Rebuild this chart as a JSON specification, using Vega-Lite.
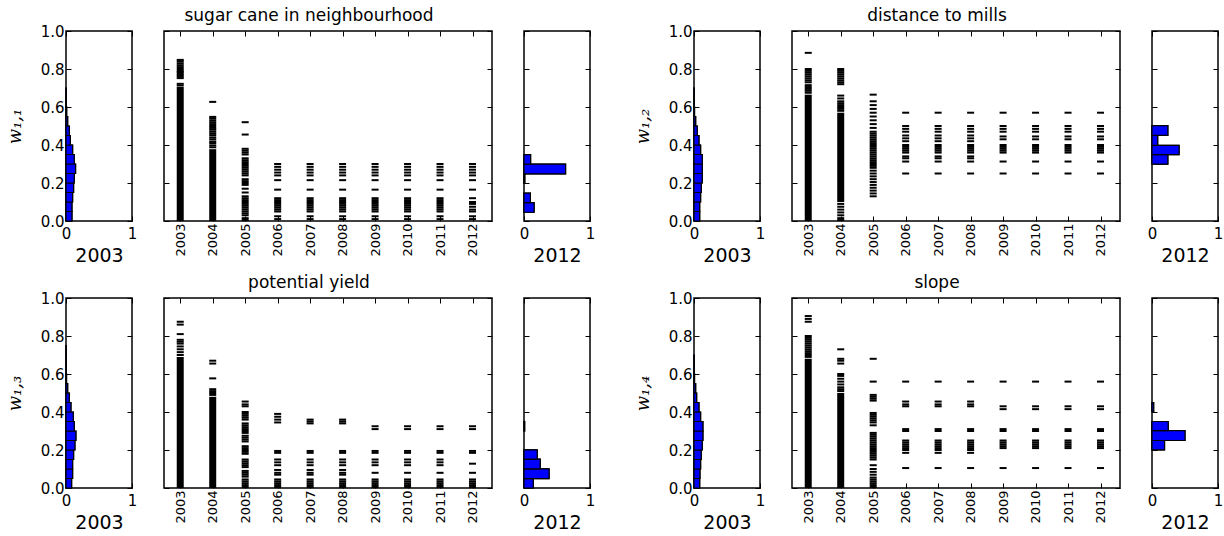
{
  "$schema": "https://vega.github.io/schema/vega-lite/v6.json",
  "background": "white",
  "padding": {"left": 5, "top": 5, "right": 0, "bottom": 0},
  "autosize": {"type": "pad"},
  "config": {
    "font": "DejaVu Sans",
    "view": {"stroke": "black", "strokeWidth": 1.5},
    "axis": {
      "grid": false, "domain": false, "ticks": true, "tickColor": "black", "tickWidth": 1, "tickSize": -5,
      "labelColor": "black", "labelFont": "DejaVu Sans", "labelFontSize": 15,
      "labelFlush": false, "labelOverlap": false,
      "titleColor": "black", "titleFont": "DejaVu Sans", "titleFontWeight": "normal", "titleFontSize": 19, "titlePadding": 5
    },
    "axisX": {"labelPadding": 10},
    "axisY": {"labelPadding": 7},
    "tick": {"opacity": 1},
    "title": {"font": "DejaVu Sans", "fontSize": 17, "fontWeight": "normal", "color": "black", "offset": 6, "anchor": "middle", "frame": "group", "dx": -19}
  },
  "datasets": {
    "hist": [
      {"panel": "sugar", "year": 2003, "lo": 0.00, "hi": 0.05, "share": 0.09},
      {"panel": "sugar", "year": 2003, "lo": 0.05, "hi": 0.10, "share": 0.09},
      {"panel": "sugar", "year": 2003, "lo": 0.10, "hi": 0.15, "share": 0.10},
      {"panel": "sugar", "year": 2003, "lo": 0.15, "hi": 0.20, "share": 0.115},
      {"panel": "sugar", "year": 2003, "lo": 0.20, "hi": 0.25, "share": 0.125},
      {"panel": "sugar", "year": 2003, "lo": 0.25, "hi": 0.30, "share": 0.145},
      {"panel": "sugar", "year": 2003, "lo": 0.30, "hi": 0.35, "share": 0.125},
      {"panel": "sugar", "year": 2003, "lo": 0.35, "hi": 0.40, "share": 0.10},
      {"panel": "sugar", "year": 2003, "lo": 0.40, "hi": 0.45, "share": 0.065},
      {"panel": "sugar", "year": 2003, "lo": 0.45, "hi": 0.50, "share": 0.05},
      {"panel": "sugar", "year": 2003, "lo": 0.50, "hi": 0.55, "share": 0.025},
      {"panel": "sugar", "year": 2003, "lo": 0.55, "hi": 0.60, "share": 0.01},
      {"panel": "sugar", "year": 2003, "lo": 0.60, "hi": 0.65, "share": 0.005},
      {"panel": "sugar", "year": 2003, "lo": 0.65, "hi": 0.70, "share": 0.003},
      {"panel": "sugar", "year": 2012, "lo": 0.046, "hi": 0.097, "share": 0.153},
      {"panel": "sugar", "year": 2012, "lo": 0.097, "hi": 0.147, "share": 0.097},
      {"panel": "sugar", "year": 2012, "lo": 0.198, "hi": 0.248, "share": 0.012},
      {"panel": "sugar", "year": 2012, "lo": 0.248, "hi": 0.299, "share": 0.63},
      {"panel": "sugar", "year": 2012, "lo": 0.299, "hi": 0.349, "share": 0.10},
      {"panel": "mills", "year": 2003, "lo": 0.00, "hi": 0.05, "share": 0.086},
      {"panel": "mills", "year": 2003, "lo": 0.05, "hi": 0.10, "share": 0.086},
      {"panel": "mills", "year": 2003, "lo": 0.10, "hi": 0.15, "share": 0.10},
      {"panel": "mills", "year": 2003, "lo": 0.15, "hi": 0.20, "share": 0.11},
      {"panel": "mills", "year": 2003, "lo": 0.20, "hi": 0.25, "share": 0.125},
      {"panel": "mills", "year": 2003, "lo": 0.25, "hi": 0.30, "share": 0.125},
      {"panel": "mills", "year": 2003, "lo": 0.30, "hi": 0.35, "share": 0.125},
      {"panel": "mills", "year": 2003, "lo": 0.35, "hi": 0.40, "share": 0.10},
      {"panel": "mills", "year": 2003, "lo": 0.40, "hi": 0.45, "share": 0.075},
      {"panel": "mills", "year": 2003, "lo": 0.45, "hi": 0.50, "share": 0.05},
      {"panel": "mills", "year": 2003, "lo": 0.50, "hi": 0.55, "share": 0.025},
      {"panel": "mills", "year": 2003, "lo": 0.55, "hi": 0.60, "share": 0.008},
      {"panel": "mills", "year": 2003, "lo": 0.60, "hi": 0.70, "share": 0.003},
      {"panel": "mills", "year": 2012, "lo": 0.299, "hi": 0.349, "share": 0.24},
      {"panel": "mills", "year": 2012, "lo": 0.349, "hi": 0.398, "share": 0.41},
      {"panel": "mills", "year": 2012, "lo": 0.398, "hi": 0.451, "share": 0.086},
      {"panel": "mills", "year": 2012, "lo": 0.451, "hi": 0.502, "share": 0.24},
      {"panel": "yield", "year": 2003, "lo": 0.00, "hi": 0.05, "share": 0.085},
      {"panel": "yield", "year": 2003, "lo": 0.05, "hi": 0.10, "share": 0.10},
      {"panel": "yield", "year": 2003, "lo": 0.10, "hi": 0.15, "share": 0.10},
      {"panel": "yield", "year": 2003, "lo": 0.15, "hi": 0.20, "share": 0.115},
      {"panel": "yield", "year": 2003, "lo": 0.20, "hi": 0.25, "share": 0.135},
      {"panel": "yield", "year": 2003, "lo": 0.25, "hi": 0.30, "share": 0.15},
      {"panel": "yield", "year": 2003, "lo": 0.30, "hi": 0.35, "share": 0.125},
      {"panel": "yield", "year": 2003, "lo": 0.35, "hi": 0.40, "share": 0.11},
      {"panel": "yield", "year": 2003, "lo": 0.40, "hi": 0.45, "share": 0.075},
      {"panel": "yield", "year": 2003, "lo": 0.45, "hi": 0.50, "share": 0.05},
      {"panel": "yield", "year": 2003, "lo": 0.50, "hi": 0.55, "share": 0.025},
      {"panel": "yield", "year": 2003, "lo": 0.55, "hi": 0.60, "share": 0.008},
      {"panel": "yield", "year": 2003, "lo": 0.60, "hi": 0.75, "share": 0.003},
      {"panel": "yield", "year": 2012, "lo": 0.000, "hi": 0.049, "share": 0.14},
      {"panel": "yield", "year": 2012, "lo": 0.049, "hi": 0.101, "share": 0.38},
      {"panel": "yield", "year": 2012, "lo": 0.101, "hi": 0.152, "share": 0.245},
      {"panel": "yield", "year": 2012, "lo": 0.152, "hi": 0.201, "share": 0.20},
      {"panel": "yield", "year": 2012, "lo": 0.300, "hi": 0.350, "share": 0.01},
      {"panel": "slope", "year": 2003, "lo": 0.00, "hi": 0.05, "share": 0.086},
      {"panel": "slope", "year": 2003, "lo": 0.05, "hi": 0.10, "share": 0.09},
      {"panel": "slope", "year": 2003, "lo": 0.10, "hi": 0.15, "share": 0.10},
      {"panel": "slope", "year": 2003, "lo": 0.15, "hi": 0.20, "share": 0.11},
      {"panel": "slope", "year": 2003, "lo": 0.20, "hi": 0.25, "share": 0.125},
      {"panel": "slope", "year": 2003, "lo": 0.25, "hi": 0.30, "share": 0.135},
      {"panel": "slope", "year": 2003, "lo": 0.30, "hi": 0.35, "share": 0.135},
      {"panel": "slope", "year": 2003, "lo": 0.35, "hi": 0.40, "share": 0.10},
      {"panel": "slope", "year": 2003, "lo": 0.40, "hi": 0.45, "share": 0.075},
      {"panel": "slope", "year": 2003, "lo": 0.45, "hi": 0.50, "share": 0.04},
      {"panel": "slope", "year": 2003, "lo": 0.50, "hi": 0.55, "share": 0.025},
      {"panel": "slope", "year": 2003, "lo": 0.55, "hi": 0.60, "share": 0.008},
      {"panel": "slope", "year": 2003, "lo": 0.60, "hi": 0.70, "share": 0.003},
      {"panel": "slope", "year": 2012, "lo": 0.201, "hi": 0.250, "share": 0.19},
      {"panel": "slope", "year": 2012, "lo": 0.250, "hi": 0.302, "share": 0.50},
      {"panel": "slope", "year": 2012, "lo": 0.302, "hi": 0.350, "share": 0.245},
      {"panel": "slope", "year": 2012, "lo": 0.402, "hi": 0.449, "share": 0.025}
    ],
    "bands": [
      {"panel": "sugar", "year": 2003, "lo": 0.0, "hi": 0.705},
      {"panel": "sugar", "year": 2004, "lo": 0.0, "hi": 0.378},
      {"panel": "mills", "year": 2003, "lo": 0.0, "hi": 0.665},
      {"panel": "mills", "year": 2004, "lo": 0.10, "hi": 0.57},
      {"panel": "yield", "year": 2003, "lo": 0.0, "hi": 0.69},
      {"panel": "yield", "year": 2004, "lo": 0.0, "hi": 0.48},
      {"panel": "slope", "year": 2003, "lo": 0.0, "hi": 0.68},
      {"panel": "slope", "year": 2004, "lo": 0.0, "hi": 0.50}
    ],
    "ticks": [
      {"panel": "sugar", "year": 2003, "w": 0.713}, {"panel": "sugar", "year": 2003, "w": 0.722}, {"panel": "sugar", "year": 2003, "w": 0.752}, {"panel": "sugar", "year": 2003, "w": 0.76}, {"panel": "sugar", "year": 2003, "w": 0.768}, {"panel": "sugar", "year": 2003, "w": 0.776}, {"panel": "sugar", "year": 2003, "w": 0.784}, {"panel": "sugar", "year": 2003, "w": 0.79}, {"panel": "sugar", "year": 2003, "w": 0.80}, {"panel": "sugar", "year": 2003, "w": 0.81}, {"panel": "sugar", "year": 2003, "w": 0.82}, {"panel": "sugar", "year": 2003, "w": 0.83}, {"panel": "sugar", "year": 2003, "w": 0.84}, {"panel": "sugar", "year": 2003, "w": 0.848},
      {"panel": "sugar", "year": 2004, "w": 0.388}, {"panel": "sugar", "year": 2004, "w": 0.398}, {"panel": "sugar", "year": 2004, "w": 0.41}, {"panel": "sugar", "year": 2004, "w": 0.418}, {"panel": "sugar", "year": 2004, "w": 0.43}, {"panel": "sugar", "year": 2004, "w": 0.44}, {"panel": "sugar", "year": 2004, "w": 0.452}, {"panel": "sugar", "year": 2004, "w": 0.462}, {"panel": "sugar", "year": 2004, "w": 0.472}, {"panel": "sugar", "year": 2004, "w": 0.482}, {"panel": "sugar", "year": 2004, "w": 0.49}, {"panel": "sugar", "year": 2004, "w": 0.50}, {"panel": "sugar", "year": 2004, "w": 0.51}, {"panel": "sugar", "year": 2004, "w": 0.52}, {"panel": "sugar", "year": 2004, "w": 0.53}, {"panel": "sugar", "year": 2004, "w": 0.54}, {"panel": "sugar", "year": 2004, "w": 0.548}, {"panel": "sugar", "year": 2004, "w": 0.627},
      {"panel": "sugar", "year": 2005, "w": 0.005}, {"panel": "sugar", "year": 2005, "w": 0.015}, {"panel": "sugar", "year": 2005, "w": 0.03}, {"panel": "sugar", "year": 2005, "w": 0.04}, {"panel": "sugar", "year": 2005, "w": 0.05}, {"panel": "sugar", "year": 2005, "w": 0.06}, {"panel": "sugar", "year": 2005, "w": 0.07}, {"panel": "sugar", "year": 2005, "w": 0.08}, {"panel": "sugar", "year": 2005, "w": 0.09}, {"panel": "sugar", "year": 2005, "w": 0.10}, {"panel": "sugar", "year": 2005, "w": 0.11}, {"panel": "sugar", "year": 2005, "w": 0.12}, {"panel": "sugar", "year": 2005, "w": 0.13}, {"panel": "sugar", "year": 2005, "w": 0.15}, {"panel": "sugar", "year": 2005, "w": 0.17}, {"panel": "sugar", "year": 2005, "w": 0.19}, {"panel": "sugar", "year": 2005, "w": 0.20}, {"panel": "sugar", "year": 2005, "w": 0.21}, {"panel": "sugar", "year": 2005, "w": 0.22}, {"panel": "sugar", "year": 2005, "w": 0.24}, {"panel": "sugar", "year": 2005, "w": 0.25}, {"panel": "sugar", "year": 2005, "w": 0.26}, {"panel": "sugar", "year": 2005, "w": 0.27}, {"panel": "sugar", "year": 2005, "w": 0.28}, {"panel": "sugar", "year": 2005, "w": 0.29}, {"panel": "sugar", "year": 2005, "w": 0.30}, {"panel": "sugar", "year": 2005, "w": 0.31}, {"panel": "sugar", "year": 2005, "w": 0.32}, {"panel": "sugar", "year": 2005, "w": 0.33}, {"panel": "sugar", "year": 2005, "w": 0.35}, {"panel": "sugar", "year": 2005, "w": 0.36}, {"panel": "sugar", "year": 2005, "w": 0.37}, {"panel": "sugar", "year": 2005, "w": 0.38}, {"panel": "sugar", "year": 2005, "w": 0.455}, {"panel": "sugar", "year": 2005, "w": 0.52},
      {"panel": "sugar", "year": 2006, "w": 0.01}, {"panel": "sugar", "year": 2006, "w": 0.025}, {"panel": "sugar", "year": 2006, "w": 0.05}, {"panel": "sugar", "year": 2006, "w": 0.06}, {"panel": "sugar", "year": 2006, "w": 0.07}, {"panel": "sugar", "year": 2006, "w": 0.08}, {"panel": "sugar", "year": 2006, "w": 0.09}, {"panel": "sugar", "year": 2006, "w": 0.10}, {"panel": "sugar", "year": 2006, "w": 0.11}, {"panel": "sugar", "year": 2006, "w": 0.12}, {"panel": "sugar", "year": 2006, "w": 0.165}, {"panel": "sugar", "year": 2006, "w": 0.215}, {"panel": "sugar", "year": 2006, "w": 0.24}, {"panel": "sugar", "year": 2006, "w": 0.255}, {"panel": "sugar", "year": 2006, "w": 0.27}, {"panel": "sugar", "year": 2006, "w": 0.285}, {"panel": "sugar", "year": 2006, "w": 0.30},
      {"panel": "sugar", "year": 2007, "w": 0.01}, {"panel": "sugar", "year": 2007, "w": 0.025}, {"panel": "sugar", "year": 2007, "w": 0.05}, {"panel": "sugar", "year": 2007, "w": 0.06}, {"panel": "sugar", "year": 2007, "w": 0.07}, {"panel": "sugar", "year": 2007, "w": 0.08}, {"panel": "sugar", "year": 2007, "w": 0.09}, {"panel": "sugar", "year": 2007, "w": 0.10}, {"panel": "sugar", "year": 2007, "w": 0.11}, {"panel": "sugar", "year": 2007, "w": 0.12}, {"panel": "sugar", "year": 2007, "w": 0.165}, {"panel": "sugar", "year": 2007, "w": 0.215}, {"panel": "sugar", "year": 2007, "w": 0.24}, {"panel": "sugar", "year": 2007, "w": 0.255}, {"panel": "sugar", "year": 2007, "w": 0.27}, {"panel": "sugar", "year": 2007, "w": 0.285}, {"panel": "sugar", "year": 2007, "w": 0.30},
      {"panel": "sugar", "year": 2008, "w": 0.01}, {"panel": "sugar", "year": 2008, "w": 0.025}, {"panel": "sugar", "year": 2008, "w": 0.05}, {"panel": "sugar", "year": 2008, "w": 0.06}, {"panel": "sugar", "year": 2008, "w": 0.07}, {"panel": "sugar", "year": 2008, "w": 0.08}, {"panel": "sugar", "year": 2008, "w": 0.09}, {"panel": "sugar", "year": 2008, "w": 0.10}, {"panel": "sugar", "year": 2008, "w": 0.11}, {"panel": "sugar", "year": 2008, "w": 0.12}, {"panel": "sugar", "year": 2008, "w": 0.165}, {"panel": "sugar", "year": 2008, "w": 0.215}, {"panel": "sugar", "year": 2008, "w": 0.24}, {"panel": "sugar", "year": 2008, "w": 0.255}, {"panel": "sugar", "year": 2008, "w": 0.27}, {"panel": "sugar", "year": 2008, "w": 0.285}, {"panel": "sugar", "year": 2008, "w": 0.30},
      {"panel": "sugar", "year": 2009, "w": 0.01}, {"panel": "sugar", "year": 2009, "w": 0.025}, {"panel": "sugar", "year": 2009, "w": 0.05}, {"panel": "sugar", "year": 2009, "w": 0.06}, {"panel": "sugar", "year": 2009, "w": 0.07}, {"panel": "sugar", "year": 2009, "w": 0.08}, {"panel": "sugar", "year": 2009, "w": 0.09}, {"panel": "sugar", "year": 2009, "w": 0.10}, {"panel": "sugar", "year": 2009, "w": 0.11}, {"panel": "sugar", "year": 2009, "w": 0.12}, {"panel": "sugar", "year": 2009, "w": 0.165}, {"panel": "sugar", "year": 2009, "w": 0.215}, {"panel": "sugar", "year": 2009, "w": 0.24}, {"panel": "sugar", "year": 2009, "w": 0.255}, {"panel": "sugar", "year": 2009, "w": 0.27}, {"panel": "sugar", "year": 2009, "w": 0.285}, {"panel": "sugar", "year": 2009, "w": 0.30},
      {"panel": "sugar", "year": 2010, "w": 0.01}, {"panel": "sugar", "year": 2010, "w": 0.025}, {"panel": "sugar", "year": 2010, "w": 0.05}, {"panel": "sugar", "year": 2010, "w": 0.06}, {"panel": "sugar", "year": 2010, "w": 0.07}, {"panel": "sugar", "year": 2010, "w": 0.08}, {"panel": "sugar", "year": 2010, "w": 0.09}, {"panel": "sugar", "year": 2010, "w": 0.10}, {"panel": "sugar", "year": 2010, "w": 0.11}, {"panel": "sugar", "year": 2010, "w": 0.12}, {"panel": "sugar", "year": 2010, "w": 0.165}, {"panel": "sugar", "year": 2010, "w": 0.215}, {"panel": "sugar", "year": 2010, "w": 0.24}, {"panel": "sugar", "year": 2010, "w": 0.255}, {"panel": "sugar", "year": 2010, "w": 0.27}, {"panel": "sugar", "year": 2010, "w": 0.285}, {"panel": "sugar", "year": 2010, "w": 0.30},
      {"panel": "sugar", "year": 2011, "w": 0.01}, {"panel": "sugar", "year": 2011, "w": 0.025}, {"panel": "sugar", "year": 2011, "w": 0.05}, {"panel": "sugar", "year": 2011, "w": 0.06}, {"panel": "sugar", "year": 2011, "w": 0.07}, {"panel": "sugar", "year": 2011, "w": 0.08}, {"panel": "sugar", "year": 2011, "w": 0.09}, {"panel": "sugar", "year": 2011, "w": 0.10}, {"panel": "sugar", "year": 2011, "w": 0.11}, {"panel": "sugar", "year": 2011, "w": 0.12}, {"panel": "sugar", "year": 2011, "w": 0.165}, {"panel": "sugar", "year": 2011, "w": 0.215}, {"panel": "sugar", "year": 2011, "w": 0.24}, {"panel": "sugar", "year": 2011, "w": 0.255}, {"panel": "sugar", "year": 2011, "w": 0.27}, {"panel": "sugar", "year": 2011, "w": 0.285}, {"panel": "sugar", "year": 2011, "w": 0.30},
      {"panel": "sugar", "year": 2012, "w": 0.01}, {"panel": "sugar", "year": 2012, "w": 0.025}, {"panel": "sugar", "year": 2012, "w": 0.05}, {"panel": "sugar", "year": 2012, "w": 0.06}, {"panel": "sugar", "year": 2012, "w": 0.075}, {"panel": "sugar", "year": 2012, "w": 0.09}, {"panel": "sugar", "year": 2012, "w": 0.10}, {"panel": "sugar", "year": 2012, "w": 0.12}, {"panel": "sugar", "year": 2012, "w": 0.165}, {"panel": "sugar", "year": 2012, "w": 0.215}, {"panel": "sugar", "year": 2012, "w": 0.24}, {"panel": "sugar", "year": 2012, "w": 0.255}, {"panel": "sugar", "year": 2012, "w": 0.27}, {"panel": "sugar", "year": 2012, "w": 0.285}, {"panel": "sugar", "year": 2012, "w": 0.30},

      {"panel": "mills", "year": 2003, "w": 0.675}, {"panel": "mills", "year": 2003, "w": 0.685}, {"panel": "mills", "year": 2003, "w": 0.695}, {"panel": "mills", "year": 2003, "w": 0.705}, {"panel": "mills", "year": 2003, "w": 0.715}, {"panel": "mills", "year": 2003, "w": 0.73}, {"panel": "mills", "year": 2003, "w": 0.74}, {"panel": "mills", "year": 2003, "w": 0.75}, {"panel": "mills", "year": 2003, "w": 0.76}, {"panel": "mills", "year": 2003, "w": 0.77}, {"panel": "mills", "year": 2003, "w": 0.78}, {"panel": "mills", "year": 2003, "w": 0.79}, {"panel": "mills", "year": 2003, "w": 0.80}, {"panel": "mills", "year": 2003, "w": 0.885},
      {"panel": "mills", "year": 2004, "w": 0.005}, {"panel": "mills", "year": 2004, "w": 0.015}, {"panel": "mills", "year": 2004, "w": 0.03}, {"panel": "mills", "year": 2004, "w": 0.045}, {"panel": "mills", "year": 2004, "w": 0.06}, {"panel": "mills", "year": 2004, "w": 0.075}, {"panel": "mills", "year": 2004, "w": 0.09}, {"panel": "mills", "year": 2004, "w": 0.58}, {"panel": "mills", "year": 2004, "w": 0.59}, {"panel": "mills", "year": 2004, "w": 0.60}, {"panel": "mills", "year": 2004, "w": 0.61}, {"panel": "mills", "year": 2004, "w": 0.62}, {"panel": "mills", "year": 2004, "w": 0.63}, {"panel": "mills", "year": 2004, "w": 0.645}, {"panel": "mills", "year": 2004, "w": 0.66}, {"panel": "mills", "year": 2004, "w": 0.72}, {"panel": "mills", "year": 2004, "w": 0.73}, {"panel": "mills", "year": 2004, "w": 0.74}, {"panel": "mills", "year": 2004, "w": 0.75}, {"panel": "mills", "year": 2004, "w": 0.76}, {"panel": "mills", "year": 2004, "w": 0.77}, {"panel": "mills", "year": 2004, "w": 0.78}, {"panel": "mills", "year": 2004, "w": 0.79}, {"panel": "mills", "year": 2004, "w": 0.80},
      {"panel": "mills", "year": 2005, "w": 0.13}, {"panel": "mills", "year": 2005, "w": 0.145}, {"panel": "mills", "year": 2005, "w": 0.16}, {"panel": "mills", "year": 2005, "w": 0.175}, {"panel": "mills", "year": 2005, "w": 0.19}, {"panel": "mills", "year": 2005, "w": 0.205}, {"panel": "mills", "year": 2005, "w": 0.22}, {"panel": "mills", "year": 2005, "w": 0.235}, {"panel": "mills", "year": 2005, "w": 0.25}, {"panel": "mills", "year": 2005, "w": 0.265}, {"panel": "mills", "year": 2005, "w": 0.28}, {"panel": "mills", "year": 2005, "w": 0.29}, {"panel": "mills", "year": 2005, "w": 0.30}, {"panel": "mills", "year": 2005, "w": 0.31}, {"panel": "mills", "year": 2005, "w": 0.32}, {"panel": "mills", "year": 2005, "w": 0.33}, {"panel": "mills", "year": 2005, "w": 0.34}, {"panel": "mills", "year": 2005, "w": 0.35}, {"panel": "mills", "year": 2005, "w": 0.36}, {"panel": "mills", "year": 2005, "w": 0.37}, {"panel": "mills", "year": 2005, "w": 0.38}, {"panel": "mills", "year": 2005, "w": 0.39}, {"panel": "mills", "year": 2005, "w": 0.40}, {"panel": "mills", "year": 2005, "w": 0.41}, {"panel": "mills", "year": 2005, "w": 0.42}, {"panel": "mills", "year": 2005, "w": 0.43}, {"panel": "mills", "year": 2005, "w": 0.44}, {"panel": "mills", "year": 2005, "w": 0.45}, {"panel": "mills", "year": 2005, "w": 0.46}, {"panel": "mills", "year": 2005, "w": 0.47}, {"panel": "mills", "year": 2005, "w": 0.49}, {"panel": "mills", "year": 2005, "w": 0.51}, {"panel": "mills", "year": 2005, "w": 0.53}, {"panel": "mills", "year": 2005, "w": 0.55}, {"panel": "mills", "year": 2005, "w": 0.57}, {"panel": "mills", "year": 2005, "w": 0.59}, {"panel": "mills", "year": 2005, "w": 0.61}, {"panel": "mills", "year": 2005, "w": 0.63}, {"panel": "mills", "year": 2005, "w": 0.665},
      {"panel": "mills", "year": 2006, "w": 0.25}, {"panel": "mills", "year": 2006, "w": 0.313}, {"panel": "mills", "year": 2006, "w": 0.33}, {"panel": "mills", "year": 2006, "w": 0.34}, {"panel": "mills", "year": 2006, "w": 0.36}, {"panel": "mills", "year": 2006, "w": 0.37}, {"panel": "mills", "year": 2006, "w": 0.38}, {"panel": "mills", "year": 2006, "w": 0.39}, {"panel": "mills", "year": 2006, "w": 0.40}, {"panel": "mills", "year": 2006, "w": 0.42}, {"panel": "mills", "year": 2006, "w": 0.435}, {"panel": "mills", "year": 2006, "w": 0.45}, {"panel": "mills", "year": 2006, "w": 0.47}, {"panel": "mills", "year": 2006, "w": 0.485}, {"panel": "mills", "year": 2006, "w": 0.50}, {"panel": "mills", "year": 2006, "w": 0.57},
      {"panel": "mills", "year": 2007, "w": 0.25}, {"panel": "mills", "year": 2007, "w": 0.313}, {"panel": "mills", "year": 2007, "w": 0.33}, {"panel": "mills", "year": 2007, "w": 0.34}, {"panel": "mills", "year": 2007, "w": 0.36}, {"panel": "mills", "year": 2007, "w": 0.37}, {"panel": "mills", "year": 2007, "w": 0.38}, {"panel": "mills", "year": 2007, "w": 0.39}, {"panel": "mills", "year": 2007, "w": 0.40}, {"panel": "mills", "year": 2007, "w": 0.42}, {"panel": "mills", "year": 2007, "w": 0.435}, {"panel": "mills", "year": 2007, "w": 0.45}, {"panel": "mills", "year": 2007, "w": 0.47}, {"panel": "mills", "year": 2007, "w": 0.485}, {"panel": "mills", "year": 2007, "w": 0.50}, {"panel": "mills", "year": 2007, "w": 0.57},
      {"panel": "mills", "year": 2008, "w": 0.25}, {"panel": "mills", "year": 2008, "w": 0.313}, {"panel": "mills", "year": 2008, "w": 0.33}, {"panel": "mills", "year": 2008, "w": 0.34}, {"panel": "mills", "year": 2008, "w": 0.36}, {"panel": "mills", "year": 2008, "w": 0.37}, {"panel": "mills", "year": 2008, "w": 0.38}, {"panel": "mills", "year": 2008, "w": 0.39}, {"panel": "mills", "year": 2008, "w": 0.40}, {"panel": "mills", "year": 2008, "w": 0.42}, {"panel": "mills", "year": 2008, "w": 0.435}, {"panel": "mills", "year": 2008, "w": 0.45}, {"panel": "mills", "year": 2008, "w": 0.47}, {"panel": "mills", "year": 2008, "w": 0.485}, {"panel": "mills", "year": 2008, "w": 0.50}, {"panel": "mills", "year": 2008, "w": 0.57},
      {"panel": "mills", "year": 2009, "w": 0.25}, {"panel": "mills", "year": 2009, "w": 0.313}, {"panel": "mills", "year": 2009, "w": 0.36}, {"panel": "mills", "year": 2009, "w": 0.37}, {"panel": "mills", "year": 2009, "w": 0.38}, {"panel": "mills", "year": 2009, "w": 0.39}, {"panel": "mills", "year": 2009, "w": 0.40}, {"panel": "mills", "year": 2009, "w": 0.43}, {"panel": "mills", "year": 2009, "w": 0.445}, {"panel": "mills", "year": 2009, "w": 0.47}, {"panel": "mills", "year": 2009, "w": 0.485}, {"panel": "mills", "year": 2009, "w": 0.50}, {"panel": "mills", "year": 2009, "w": 0.57},
      {"panel": "mills", "year": 2010, "w": 0.25}, {"panel": "mills", "year": 2010, "w": 0.313}, {"panel": "mills", "year": 2010, "w": 0.36}, {"panel": "mills", "year": 2010, "w": 0.37}, {"panel": "mills", "year": 2010, "w": 0.38}, {"panel": "mills", "year": 2010, "w": 0.39}, {"panel": "mills", "year": 2010, "w": 0.40}, {"panel": "mills", "year": 2010, "w": 0.43}, {"panel": "mills", "year": 2010, "w": 0.445}, {"panel": "mills", "year": 2010, "w": 0.47}, {"panel": "mills", "year": 2010, "w": 0.485}, {"panel": "mills", "year": 2010, "w": 0.50}, {"panel": "mills", "year": 2010, "w": 0.57},
      {"panel": "mills", "year": 2011, "w": 0.25}, {"panel": "mills", "year": 2011, "w": 0.313}, {"panel": "mills", "year": 2011, "w": 0.36}, {"panel": "mills", "year": 2011, "w": 0.37}, {"panel": "mills", "year": 2011, "w": 0.38}, {"panel": "mills", "year": 2011, "w": 0.39}, {"panel": "mills", "year": 2011, "w": 0.40}, {"panel": "mills", "year": 2011, "w": 0.43}, {"panel": "mills", "year": 2011, "w": 0.445}, {"panel": "mills", "year": 2011, "w": 0.47}, {"panel": "mills", "year": 2011, "w": 0.485}, {"panel": "mills", "year": 2011, "w": 0.50}, {"panel": "mills", "year": 2011, "w": 0.57},
      {"panel": "mills", "year": 2012, "w": 0.25}, {"panel": "mills", "year": 2012, "w": 0.313}, {"panel": "mills", "year": 2012, "w": 0.36}, {"panel": "mills", "year": 2012, "w": 0.37}, {"panel": "mills", "year": 2012, "w": 0.38}, {"panel": "mills", "year": 2012, "w": 0.39}, {"panel": "mills", "year": 2012, "w": 0.40}, {"panel": "mills", "year": 2012, "w": 0.43}, {"panel": "mills", "year": 2012, "w": 0.445}, {"panel": "mills", "year": 2012, "w": 0.47}, {"panel": "mills", "year": 2012, "w": 0.485}, {"panel": "mills", "year": 2012, "w": 0.50}, {"panel": "mills", "year": 2012, "w": 0.57},

      {"panel": "yield", "year": 2003, "w": 0.70}, {"panel": "yield", "year": 2003, "w": 0.715}, {"panel": "yield", "year": 2003, "w": 0.73}, {"panel": "yield", "year": 2003, "w": 0.745}, {"panel": "yield", "year": 2003, "w": 0.76}, {"panel": "yield", "year": 2003, "w": 0.77}, {"panel": "yield", "year": 2003, "w": 0.78}, {"panel": "yield", "year": 2003, "w": 0.81}, {"panel": "yield", "year": 2003, "w": 0.86}, {"panel": "yield", "year": 2003, "w": 0.875},
      {"panel": "yield", "year": 2004, "w": 0.49}, {"panel": "yield", "year": 2004, "w": 0.50}, {"panel": "yield", "year": 2004, "w": 0.51}, {"panel": "yield", "year": 2004, "w": 0.52}, {"panel": "yield", "year": 2004, "w": 0.577}, {"panel": "yield", "year": 2004, "w": 0.655}, {"panel": "yield", "year": 2004, "w": 0.67},
      {"panel": "yield", "year": 2005, "w": 0.005}, {"panel": "yield", "year": 2005, "w": 0.015}, {"panel": "yield", "year": 2005, "w": 0.025}, {"panel": "yield", "year": 2005, "w": 0.035}, {"panel": "yield", "year": 2005, "w": 0.045}, {"panel": "yield", "year": 2005, "w": 0.06}, {"panel": "yield", "year": 2005, "w": 0.07}, {"panel": "yield", "year": 2005, "w": 0.08}, {"panel": "yield", "year": 2005, "w": 0.09}, {"panel": "yield", "year": 2005, "w": 0.11}, {"panel": "yield", "year": 2005, "w": 0.12}, {"panel": "yield", "year": 2005, "w": 0.13}, {"panel": "yield", "year": 2005, "w": 0.14}, {"panel": "yield", "year": 2005, "w": 0.15}, {"panel": "yield", "year": 2005, "w": 0.18}, {"panel": "yield", "year": 2005, "w": 0.19}, {"panel": "yield", "year": 2005, "w": 0.20}, {"panel": "yield", "year": 2005, "w": 0.21}, {"panel": "yield", "year": 2005, "w": 0.22}, {"panel": "yield", "year": 2005, "w": 0.245}, {"panel": "yield", "year": 2005, "w": 0.255}, {"panel": "yield", "year": 2005, "w": 0.265}, {"panel": "yield", "year": 2005, "w": 0.275}, {"panel": "yield", "year": 2005, "w": 0.29}, {"panel": "yield", "year": 2005, "w": 0.30}, {"panel": "yield", "year": 2005, "w": 0.31}, {"panel": "yield", "year": 2005, "w": 0.32}, {"panel": "yield", "year": 2005, "w": 0.33}, {"panel": "yield", "year": 2005, "w": 0.34}, {"panel": "yield", "year": 2005, "w": 0.36}, {"panel": "yield", "year": 2005, "w": 0.37}, {"panel": "yield", "year": 2005, "w": 0.38}, {"panel": "yield", "year": 2005, "w": 0.39}, {"panel": "yield", "year": 2005, "w": 0.40}, {"panel": "yield", "year": 2005, "w": 0.43}, {"panel": "yield", "year": 2005, "w": 0.44}, {"panel": "yield", "year": 2005, "w": 0.455},
      {"panel": "yield", "year": 2006, "w": 0.005}, {"panel": "yield", "year": 2006, "w": 0.015}, {"panel": "yield", "year": 2006, "w": 0.025}, {"panel": "yield", "year": 2006, "w": 0.035}, {"panel": "yield", "year": 2006, "w": 0.045}, {"panel": "yield", "year": 2006, "w": 0.07}, {"panel": "yield", "year": 2006, "w": 0.08}, {"panel": "yield", "year": 2006, "w": 0.095}, {"panel": "yield", "year": 2006, "w": 0.12}, {"panel": "yield", "year": 2006, "w": 0.135}, {"panel": "yield", "year": 2006, "w": 0.15}, {"panel": "yield", "year": 2006, "w": 0.185}, {"panel": "yield", "year": 2006, "w": 0.195}, {"panel": "yield", "year": 2006, "w": 0.345}, {"panel": "yield", "year": 2006, "w": 0.36}, {"panel": "yield", "year": 2006, "w": 0.375}, {"panel": "yield", "year": 2006, "w": 0.39},
      {"panel": "yield", "year": 2007, "w": 0.005}, {"panel": "yield", "year": 2007, "w": 0.015}, {"panel": "yield", "year": 2007, "w": 0.025}, {"panel": "yield", "year": 2007, "w": 0.035}, {"panel": "yield", "year": 2007, "w": 0.045}, {"panel": "yield", "year": 2007, "w": 0.07}, {"panel": "yield", "year": 2007, "w": 0.08}, {"panel": "yield", "year": 2007, "w": 0.095}, {"panel": "yield", "year": 2007, "w": 0.12}, {"panel": "yield", "year": 2007, "w": 0.135}, {"panel": "yield", "year": 2007, "w": 0.15}, {"panel": "yield", "year": 2007, "w": 0.185}, {"panel": "yield", "year": 2007, "w": 0.195}, {"panel": "yield", "year": 2007, "w": 0.34}, {"panel": "yield", "year": 2007, "w": 0.35}, {"panel": "yield", "year": 2007, "w": 0.36},
      {"panel": "yield", "year": 2008, "w": 0.005}, {"panel": "yield", "year": 2008, "w": 0.015}, {"panel": "yield", "year": 2008, "w": 0.025}, {"panel": "yield", "year": 2008, "w": 0.035}, {"panel": "yield", "year": 2008, "w": 0.045}, {"panel": "yield", "year": 2008, "w": 0.07}, {"panel": "yield", "year": 2008, "w": 0.08}, {"panel": "yield", "year": 2008, "w": 0.095}, {"panel": "yield", "year": 2008, "w": 0.12}, {"panel": "yield", "year": 2008, "w": 0.135}, {"panel": "yield", "year": 2008, "w": 0.15}, {"panel": "yield", "year": 2008, "w": 0.185}, {"panel": "yield", "year": 2008, "w": 0.195}, {"panel": "yield", "year": 2008, "w": 0.34}, {"panel": "yield", "year": 2008, "w": 0.35}, {"panel": "yield", "year": 2008, "w": 0.36},
      {"panel": "yield", "year": 2009, "w": 0.005}, {"panel": "yield", "year": 2009, "w": 0.015}, {"panel": "yield", "year": 2009, "w": 0.025}, {"panel": "yield", "year": 2009, "w": 0.035}, {"panel": "yield", "year": 2009, "w": 0.045}, {"panel": "yield", "year": 2009, "w": 0.08}, {"panel": "yield", "year": 2009, "w": 0.12}, {"panel": "yield", "year": 2009, "w": 0.135}, {"panel": "yield", "year": 2009, "w": 0.15}, {"panel": "yield", "year": 2009, "w": 0.185}, {"panel": "yield", "year": 2009, "w": 0.195}, {"panel": "yield", "year": 2009, "w": 0.31}, {"panel": "yield", "year": 2009, "w": 0.325},
      {"panel": "yield", "year": 2010, "w": 0.005}, {"panel": "yield", "year": 2010, "w": 0.015}, {"panel": "yield", "year": 2010, "w": 0.025}, {"panel": "yield", "year": 2010, "w": 0.035}, {"panel": "yield", "year": 2010, "w": 0.045}, {"panel": "yield", "year": 2010, "w": 0.08}, {"panel": "yield", "year": 2010, "w": 0.12}, {"panel": "yield", "year": 2010, "w": 0.135}, {"panel": "yield", "year": 2010, "w": 0.15}, {"panel": "yield", "year": 2010, "w": 0.185}, {"panel": "yield", "year": 2010, "w": 0.195}, {"panel": "yield", "year": 2010, "w": 0.31}, {"panel": "yield", "year": 2010, "w": 0.325},
      {"panel": "yield", "year": 2011, "w": 0.005}, {"panel": "yield", "year": 2011, "w": 0.015}, {"panel": "yield", "year": 2011, "w": 0.025}, {"panel": "yield", "year": 2011, "w": 0.035}, {"panel": "yield", "year": 2011, "w": 0.045}, {"panel": "yield", "year": 2011, "w": 0.08}, {"panel": "yield", "year": 2011, "w": 0.12}, {"panel": "yield", "year": 2011, "w": 0.135}, {"panel": "yield", "year": 2011, "w": 0.15}, {"panel": "yield", "year": 2011, "w": 0.185}, {"panel": "yield", "year": 2011, "w": 0.195}, {"panel": "yield", "year": 2011, "w": 0.31}, {"panel": "yield", "year": 2011, "w": 0.325},
      {"panel": "yield", "year": 2012, "w": 0.005}, {"panel": "yield", "year": 2012, "w": 0.015}, {"panel": "yield", "year": 2012, "w": 0.025}, {"panel": "yield", "year": 2012, "w": 0.035}, {"panel": "yield", "year": 2012, "w": 0.045}, {"panel": "yield", "year": 2012, "w": 0.08}, {"panel": "yield", "year": 2012, "w": 0.128}, {"panel": "yield", "year": 2012, "w": 0.185}, {"panel": "yield", "year": 2012, "w": 0.195}, {"panel": "yield", "year": 2012, "w": 0.31}, {"panel": "yield", "year": 2012, "w": 0.325},

      {"panel": "slope", "year": 2003, "w": 0.69}, {"panel": "slope", "year": 2003, "w": 0.70}, {"panel": "slope", "year": 2003, "w": 0.71}, {"panel": "slope", "year": 2003, "w": 0.72}, {"panel": "slope", "year": 2003, "w": 0.73}, {"panel": "slope", "year": 2003, "w": 0.74}, {"panel": "slope", "year": 2003, "w": 0.75}, {"panel": "slope", "year": 2003, "w": 0.76}, {"panel": "slope", "year": 2003, "w": 0.77}, {"panel": "slope", "year": 2003, "w": 0.78}, {"panel": "slope", "year": 2003, "w": 0.79}, {"panel": "slope", "year": 2003, "w": 0.80}, {"panel": "slope", "year": 2003, "w": 0.875}, {"panel": "slope", "year": 2003, "w": 0.89}, {"panel": "slope", "year": 2003, "w": 0.905},
      {"panel": "slope", "year": 2004, "w": 0.51}, {"panel": "slope", "year": 2004, "w": 0.52}, {"panel": "slope", "year": 2004, "w": 0.53}, {"panel": "slope", "year": 2004, "w": 0.545}, {"panel": "slope", "year": 2004, "w": 0.56}, {"panel": "slope", "year": 2004, "w": 0.575}, {"panel": "slope", "year": 2004, "w": 0.59}, {"panel": "slope", "year": 2004, "w": 0.60}, {"panel": "slope", "year": 2004, "w": 0.655}, {"panel": "slope", "year": 2004, "w": 0.67}, {"panel": "slope", "year": 2004, "w": 0.68}, {"panel": "slope", "year": 2004, "w": 0.73},
      {"panel": "slope", "year": 2005, "w": 0.005}, {"panel": "slope", "year": 2005, "w": 0.015}, {"panel": "slope", "year": 2005, "w": 0.025}, {"panel": "slope", "year": 2005, "w": 0.035}, {"panel": "slope", "year": 2005, "w": 0.045}, {"panel": "slope", "year": 2005, "w": 0.055}, {"panel": "slope", "year": 2005, "w": 0.07}, {"panel": "slope", "year": 2005, "w": 0.085}, {"panel": "slope", "year": 2005, "w": 0.10}, {"panel": "slope", "year": 2005, "w": 0.12}, {"panel": "slope", "year": 2005, "w": 0.15}, {"panel": "slope", "year": 2005, "w": 0.16}, {"panel": "slope", "year": 2005, "w": 0.17}, {"panel": "slope", "year": 2005, "w": 0.18}, {"panel": "slope", "year": 2005, "w": 0.19}, {"panel": "slope", "year": 2005, "w": 0.20}, {"panel": "slope", "year": 2005, "w": 0.21}, {"panel": "slope", "year": 2005, "w": 0.22}, {"panel": "slope", "year": 2005, "w": 0.23}, {"panel": "slope", "year": 2005, "w": 0.24}, {"panel": "slope", "year": 2005, "w": 0.25}, {"panel": "slope", "year": 2005, "w": 0.26}, {"panel": "slope", "year": 2005, "w": 0.27}, {"panel": "slope", "year": 2005, "w": 0.28}, {"panel": "slope", "year": 2005, "w": 0.29}, {"panel": "slope", "year": 2005, "w": 0.33}, {"panel": "slope", "year": 2005, "w": 0.345}, {"panel": "slope", "year": 2005, "w": 0.355}, {"panel": "slope", "year": 2005, "w": 0.365}, {"panel": "slope", "year": 2005, "w": 0.375}, {"panel": "slope", "year": 2005, "w": 0.385}, {"panel": "slope", "year": 2005, "w": 0.395}, {"panel": "slope", "year": 2005, "w": 0.46}, {"panel": "slope", "year": 2005, "w": 0.47}, {"panel": "slope", "year": 2005, "w": 0.48}, {"panel": "slope", "year": 2005, "w": 0.49}, {"panel": "slope", "year": 2005, "w": 0.56}, {"panel": "slope", "year": 2005, "w": 0.68},
      {"panel": "slope", "year": 2006, "w": 0.105}, {"panel": "slope", "year": 2006, "w": 0.185}, {"panel": "slope", "year": 2006, "w": 0.20}, {"panel": "slope", "year": 2006, "w": 0.21}, {"panel": "slope", "year": 2006, "w": 0.22}, {"panel": "slope", "year": 2006, "w": 0.23}, {"panel": "slope", "year": 2006, "w": 0.24}, {"panel": "slope", "year": 2006, "w": 0.25}, {"panel": "slope", "year": 2006, "w": 0.30}, {"panel": "slope", "year": 2006, "w": 0.31}, {"panel": "slope", "year": 2006, "w": 0.43}, {"panel": "slope", "year": 2006, "w": 0.44}, {"panel": "slope", "year": 2006, "w": 0.455}, {"panel": "slope", "year": 2006, "w": 0.56},
      {"panel": "slope", "year": 2007, "w": 0.105}, {"panel": "slope", "year": 2007, "w": 0.185}, {"panel": "slope", "year": 2007, "w": 0.20}, {"panel": "slope", "year": 2007, "w": 0.21}, {"panel": "slope", "year": 2007, "w": 0.22}, {"panel": "slope", "year": 2007, "w": 0.23}, {"panel": "slope", "year": 2007, "w": 0.24}, {"panel": "slope", "year": 2007, "w": 0.25}, {"panel": "slope", "year": 2007, "w": 0.30}, {"panel": "slope", "year": 2007, "w": 0.31}, {"panel": "slope", "year": 2007, "w": 0.43}, {"panel": "slope", "year": 2007, "w": 0.44}, {"panel": "slope", "year": 2007, "w": 0.455}, {"panel": "slope", "year": 2007, "w": 0.56},
      {"panel": "slope", "year": 2008, "w": 0.105}, {"panel": "slope", "year": 2008, "w": 0.185}, {"panel": "slope", "year": 2008, "w": 0.20}, {"panel": "slope", "year": 2008, "w": 0.21}, {"panel": "slope", "year": 2008, "w": 0.22}, {"panel": "slope", "year": 2008, "w": 0.23}, {"panel": "slope", "year": 2008, "w": 0.24}, {"panel": "slope", "year": 2008, "w": 0.25}, {"panel": "slope", "year": 2008, "w": 0.30}, {"panel": "slope", "year": 2008, "w": 0.31}, {"panel": "slope", "year": 2008, "w": 0.43}, {"panel": "slope", "year": 2008, "w": 0.44}, {"panel": "slope", "year": 2008, "w": 0.455}, {"panel": "slope", "year": 2008, "w": 0.56},
      {"panel": "slope", "year": 2009, "w": 0.105}, {"panel": "slope", "year": 2009, "w": 0.21}, {"panel": "slope", "year": 2009, "w": 0.22}, {"panel": "slope", "year": 2009, "w": 0.23}, {"panel": "slope", "year": 2009, "w": 0.24}, {"panel": "slope", "year": 2009, "w": 0.25}, {"panel": "slope", "year": 2009, "w": 0.30}, {"panel": "slope", "year": 2009, "w": 0.31}, {"panel": "slope", "year": 2009, "w": 0.415}, {"panel": "slope", "year": 2009, "w": 0.43}, {"panel": "slope", "year": 2009, "w": 0.56},
      {"panel": "slope", "year": 2010, "w": 0.105}, {"panel": "slope", "year": 2010, "w": 0.21}, {"panel": "slope", "year": 2010, "w": 0.22}, {"panel": "slope", "year": 2010, "w": 0.23}, {"panel": "slope", "year": 2010, "w": 0.24}, {"panel": "slope", "year": 2010, "w": 0.25}, {"panel": "slope", "year": 2010, "w": 0.30}, {"panel": "slope", "year": 2010, "w": 0.31}, {"panel": "slope", "year": 2010, "w": 0.415}, {"panel": "slope", "year": 2010, "w": 0.43}, {"panel": "slope", "year": 2010, "w": 0.56},
      {"panel": "slope", "year": 2011, "w": 0.105}, {"panel": "slope", "year": 2011, "w": 0.21}, {"panel": "slope", "year": 2011, "w": 0.22}, {"panel": "slope", "year": 2011, "w": 0.23}, {"panel": "slope", "year": 2011, "w": 0.24}, {"panel": "slope", "year": 2011, "w": 0.25}, {"panel": "slope", "year": 2011, "w": 0.30}, {"panel": "slope", "year": 2011, "w": 0.31}, {"panel": "slope", "year": 2011, "w": 0.415}, {"panel": "slope", "year": 2011, "w": 0.43}, {"panel": "slope", "year": 2011, "w": 0.56},
      {"panel": "slope", "year": 2012, "w": 0.105}, {"panel": "slope", "year": 2012, "w": 0.21}, {"panel": "slope", "year": 2012, "w": 0.22}, {"panel": "slope", "year": 2012, "w": 0.23}, {"panel": "slope", "year": 2012, "w": 0.24}, {"panel": "slope", "year": 2012, "w": 0.25}, {"panel": "slope", "year": 2012, "w": 0.30}, {"panel": "slope", "year": 2012, "w": 0.31}, {"panel": "slope", "year": 2012, "w": 0.415}, {"panel": "slope", "year": 2012, "w": 0.43}, {"panel": "slope", "year": 2012, "w": 0.56}
    ]
  },
  "columns": 7,
  "spacing": {"row": 77, "column": 32},
  "bounds": "flush",
  "align": "each",
  "concat": [
    {
      "width": 66, "height": 190,
      "data": {"name": "hist"},
      "transform": [{"filter": "datum.panel === 'sugar' && datum.year === 2003"}],
      "layer": [
        {"mark": {"type": "rect", "fill": "#0000ff", "stroke": "black", "strokeWidth": 1.2},
         "encoding": {
           "x": {"field": "share", "type": "quantitative", "scale": {"domain": [0, 1], "nice": false, "zero": false}, "axis": {"orient": "bottom", "values": [0, 1], "format": "d", "title": "2003"}},
           "x2": {"datum": 0},
           "y": {"field": "lo", "type": "quantitative", "scale": {"domain": [0, 1], "nice": false, "zero": false}, "axis": {"orient": "left", "values": [0, 0.2, 0.4, 0.6, 0.8, 1], "format": ".1f", "title": "w₁,₁", "titleFont": "DejaVu Serif", "titleFontStyle": "italic", "titleFontSize": 18, "titlePadding": 16}},
           "y2": {"field": "hi"}}},
        {"mark": {"type": "rect", "fill": "#0000ff", "stroke": "black", "strokeWidth": 1.2},
         "encoding": {
           "x": {"field": "share", "type": "quantitative", "scale": {"domain": [0, 1], "nice": false, "zero": false}, "axis": {"orient": "top", "values": [0, 1], "labels": false, "title": null}},
           "x2": {"datum": 0},
           "y": {"field": "lo", "type": "quantitative", "scale": {"domain": [0, 1], "nice": false, "zero": false}, "axis": {"orient": "right", "values": [0, 0.2, 0.4, 0.6, 0.8, 1], "labels": false, "title": null}},
           "y2": {"field": "hi"}}}
      ],
      "resolve": {"axis": {"x": "independent", "y": "independent"}}
    },
    {
      "width": 328, "height": 190,
      "title": "sugar cane in neighbourhood",
      "layer": [
        {"data": {"name": "bands"}, "transform": [{"filter": "datum.panel === 'sugar'"}],
         "mark": {"type": "rule", "strokeWidth": 7, "color": "black"},
         "encoding": {
           "x": {"field": "year", "type": "quantitative", "scale": {"domain": [2002.5, 2012.6], "nice": false, "zero": false}, "axis": {"orient": "bottom", "values": [2003, 2004, 2005, 2006, 2007, 2008, 2009, 2010, 2011, 2012], "format": "d", "labelAngle": 270, "labelFontSize": 13, "labelPadding": 7, "title": null}},
           "y": {"field": "lo", "type": "quantitative", "scale": {"domain": [0, 1], "nice": false, "zero": false}, "axis": {"orient": "left", "values": [0, 0.2, 0.4, 0.6, 0.8, 1], "labels": false, "title": null}},
           "y2": {"field": "hi"}}},
        {"data": {"name": "ticks"}, "transform": [{"filter": "datum.panel === 'sugar'"}],
         "mark": {"type": "tick", "orient": "horizontal", "size": 7, "thickness": 2, "color": "black", "opacity": 1},
         "encoding": {
           "x": {"field": "year", "type": "quantitative", "scale": {"domain": [2002.5, 2012.6], "nice": false, "zero": false}, "axis": {"orient": "top", "values": [2003, 2004, 2005, 2006, 2007, 2008, 2009, 2010, 2011, 2012], "labels": false, "title": null}},
           "y": {"field": "w", "type": "quantitative", "scale": {"domain": [0, 1], "nice": false, "zero": false}, "axis": {"orient": "right", "values": [0, 0.2, 0.4, 0.6, 0.8, 1], "labels": false, "title": null}}}}
      ],
      "resolve": {"axis": {"x": "independent", "y": "independent"}}
    },
    {
      "width": 66, "height": 190,
      "data": {"name": "hist"},
      "transform": [{"filter": "datum.panel === 'sugar' && datum.year === 2012"}],
      "layer": [
        {"mark": {"type": "rect", "fill": "#0000ff", "stroke": "black", "strokeWidth": 1.2},
         "encoding": {
           "x": {"field": "share", "type": "quantitative", "scale": {"domain": [0, 1], "nice": false, "zero": false}, "axis": {"orient": "bottom", "values": [0, 1], "format": "d", "title": "2012"}},
           "x2": {"datum": 0},
           "y": {"field": "lo", "type": "quantitative", "scale": {"domain": [0, 1], "nice": false, "zero": false}, "axis": {"orient": "left", "values": [0, 0.2, 0.4, 0.6, 0.8, 1], "labels": false, "title": null}},
           "y2": {"field": "hi"}}},
        {"mark": {"type": "rect", "fill": "#0000ff", "stroke": "black", "strokeWidth": 1.2},
         "encoding": {
           "x": {"field": "share", "type": "quantitative", "scale": {"domain": [0, 1], "nice": false, "zero": false}, "axis": {"orient": "top", "values": [0, 1], "labels": false, "title": null}},
           "x2": {"datum": 0},
           "y": {"field": "lo", "type": "quantitative", "scale": {"domain": [0, 1], "nice": false, "zero": false}, "axis": {"orient": "right", "values": [0, 0.2, 0.4, 0.6, 0.8, 1], "labels": false, "title": null}},
           "y2": {"field": "hi"}}}
      ],
      "resolve": {"axis": {"x": "independent", "y": "independent"}}
    },
    {"width": 40, "height": 190, "data": {"values": []}, "mark": "point", "view": {"stroke": null}},
    {
      "width": 66, "height": 190,
      "data": {"name": "hist"},
      "transform": [{"filter": "datum.panel === 'mills' && datum.year === 2003"}],
      "layer": [
        {"mark": {"type": "rect", "fill": "#0000ff", "stroke": "black", "strokeWidth": 1.2},
         "encoding": {
           "x": {"field": "share", "type": "quantitative", "scale": {"domain": [0, 1], "nice": false, "zero": false}, "axis": {"orient": "bottom", "values": [0, 1], "format": "d", "title": "2003"}},
           "x2": {"datum": 0},
           "y": {"field": "lo", "type": "quantitative", "scale": {"domain": [0, 1], "nice": false, "zero": false}, "axis": {"orient": "left", "values": [0, 0.2, 0.4, 0.6, 0.8, 1], "format": ".1f", "title": "w₁,₂", "titleFont": "DejaVu Serif", "titleFontStyle": "italic", "titleFontSize": 18, "titlePadding": 16}},
           "y2": {"field": "hi"}}},
        {"mark": {"type": "rect", "fill": "#0000ff", "stroke": "black", "strokeWidth": 1.2},
         "encoding": {
           "x": {"field": "share", "type": "quantitative", "scale": {"domain": [0, 1], "nice": false, "zero": false}, "axis": {"orient": "top", "values": [0, 1], "labels": false, "title": null}},
           "x2": {"datum": 0},
           "y": {"field": "lo", "type": "quantitative", "scale": {"domain": [0, 1], "nice": false, "zero": false}, "axis": {"orient": "right", "values": [0, 0.2, 0.4, 0.6, 0.8, 1], "labels": false, "title": null}},
           "y2": {"field": "hi"}}}
      ],
      "resolve": {"axis": {"x": "independent", "y": "independent"}}
    },
    {
      "width": 328, "height": 190,
      "title": "distance to mills",
      "layer": [
        {"data": {"name": "bands"}, "transform": [{"filter": "datum.panel === 'mills'"}],
         "mark": {"type": "rule", "strokeWidth": 7, "color": "black"},
         "encoding": {
           "x": {"field": "year", "type": "quantitative", "scale": {"domain": [2002.5, 2012.6], "nice": false, "zero": false}, "axis": {"orient": "bottom", "values": [2003, 2004, 2005, 2006, 2007, 2008, 2009, 2010, 2011, 2012], "format": "d", "labelAngle": 270, "labelFontSize": 13, "labelPadding": 7, "title": null}},
           "y": {"field": "lo", "type": "quantitative", "scale": {"domain": [0, 1], "nice": false, "zero": false}, "axis": {"orient": "left", "values": [0, 0.2, 0.4, 0.6, 0.8, 1], "labels": false, "title": null}},
           "y2": {"field": "hi"}}},
        {"data": {"name": "ticks"}, "transform": [{"filter": "datum.panel === 'mills'"}],
         "mark": {"type": "tick", "orient": "horizontal", "size": 7, "thickness": 2, "color": "black", "opacity": 1},
         "encoding": {
           "x": {"field": "year", "type": "quantitative", "scale": {"domain": [2002.5, 2012.6], "nice": false, "zero": false}, "axis": {"orient": "top", "values": [2003, 2004, 2005, 2006, 2007, 2008, 2009, 2010, 2011, 2012], "labels": false, "title": null}},
           "y": {"field": "w", "type": "quantitative", "scale": {"domain": [0, 1], "nice": false, "zero": false}, "axis": {"orient": "right", "values": [0, 0.2, 0.4, 0.6, 0.8, 1], "labels": false, "title": null}}}}
      ],
      "resolve": {"axis": {"x": "independent", "y": "independent"}}
    },
    {
      "width": 66, "height": 190,
      "data": {"name": "hist"},
      "transform": [{"filter": "datum.panel === 'mills' && datum.year === 2012"}],
      "layer": [
        {"mark": {"type": "rect", "fill": "#0000ff", "stroke": "black", "strokeWidth": 1.2},
         "encoding": {
           "x": {"field": "share", "type": "quantitative", "scale": {"domain": [0, 1], "nice": false, "zero": false}, "axis": {"orient": "bottom", "values": [0, 1], "format": "d", "title": "2012"}},
           "x2": {"datum": 0},
           "y": {"field": "lo", "type": "quantitative", "scale": {"domain": [0, 1], "nice": false, "zero": false}, "axis": {"orient": "left", "values": [0, 0.2, 0.4, 0.6, 0.8, 1], "labels": false, "title": null}},
           "y2": {"field": "hi"}}},
        {"mark": {"type": "rect", "fill": "#0000ff", "stroke": "black", "strokeWidth": 1.2},
         "encoding": {
           "x": {"field": "share", "type": "quantitative", "scale": {"domain": [0, 1], "nice": false, "zero": false}, "axis": {"orient": "top", "values": [0, 1], "labels": false, "title": null}},
           "x2": {"datum": 0},
           "y": {"field": "lo", "type": "quantitative", "scale": {"domain": [0, 1], "nice": false, "zero": false}, "axis": {"orient": "right", "values": [0, 0.2, 0.4, 0.6, 0.8, 1], "labels": false, "title": null}},
           "y2": {"field": "hi"}}}
      ],
      "resolve": {"axis": {"x": "independent", "y": "independent"}}
    },
    {
      "width": 66, "height": 190,
      "data": {"name": "hist"},
      "transform": [{"filter": "datum.panel === 'yield' && datum.year === 2003"}],
      "layer": [
        {"mark": {"type": "rect", "fill": "#0000ff", "stroke": "black", "strokeWidth": 1.2},
         "encoding": {
           "x": {"field": "share", "type": "quantitative", "scale": {"domain": [0, 1], "nice": false, "zero": false}, "axis": {"orient": "bottom", "values": [0, 1], "format": "d", "title": "2003"}},
           "x2": {"datum": 0},
           "y": {"field": "lo", "type": "quantitative", "scale": {"domain": [0, 1], "nice": false, "zero": false}, "axis": {"orient": "left", "values": [0, 0.2, 0.4, 0.6, 0.8, 1], "format": ".1f", "title": "w₁,₃", "titleFont": "DejaVu Serif", "titleFontStyle": "italic", "titleFontSize": 18, "titlePadding": 16}},
           "y2": {"field": "hi"}}},
        {"mark": {"type": "rect", "fill": "#0000ff", "stroke": "black", "strokeWidth": 1.2},
         "encoding": {
           "x": {"field": "share", "type": "quantitative", "scale": {"domain": [0, 1], "nice": false, "zero": false}, "axis": {"orient": "top", "values": [0, 1], "labels": false, "title": null}},
           "x2": {"datum": 0},
           "y": {"field": "lo", "type": "quantitative", "scale": {"domain": [0, 1], "nice": false, "zero": false}, "axis": {"orient": "right", "values": [0, 0.2, 0.4, 0.6, 0.8, 1], "labels": false, "title": null}},
           "y2": {"field": "hi"}}}
      ],
      "resolve": {"axis": {"x": "independent", "y": "independent"}}
    },
    {
      "width": 328, "height": 190,
      "title": "potential yield",
      "layer": [
        {"data": {"name": "bands"}, "transform": [{"filter": "datum.panel === 'yield'"}],
         "mark": {"type": "rule", "strokeWidth": 7, "color": "black"},
         "encoding": {
           "x": {"field": "year", "type": "quantitative", "scale": {"domain": [2002.5, 2012.6], "nice": false, "zero": false}, "axis": {"orient": "bottom", "values": [2003, 2004, 2005, 2006, 2007, 2008, 2009, 2010, 2011, 2012], "format": "d", "labelAngle": 270, "labelFontSize": 13, "labelPadding": 7, "title": null}},
           "y": {"field": "lo", "type": "quantitative", "scale": {"domain": [0, 1], "nice": false, "zero": false}, "axis": {"orient": "left", "values": [0, 0.2, 0.4, 0.6, 0.8, 1], "labels": false, "title": null}},
           "y2": {"field": "hi"}}},
        {"data": {"name": "ticks"}, "transform": [{"filter": "datum.panel === 'yield'"}],
         "mark": {"type": "tick", "orient": "horizontal", "size": 7, "thickness": 2, "color": "black", "opacity": 1},
         "encoding": {
           "x": {"field": "year", "type": "quantitative", "scale": {"domain": [2002.5, 2012.6], "nice": false, "zero": false}, "axis": {"orient": "top", "values": [2003, 2004, 2005, 2006, 2007, 2008, 2009, 2010, 2011, 2012], "labels": false, "title": null}},
           "y": {"field": "w", "type": "quantitative", "scale": {"domain": [0, 1], "nice": false, "zero": false}, "axis": {"orient": "right", "values": [0, 0.2, 0.4, 0.6, 0.8, 1], "labels": false, "title": null}}}}
      ],
      "resolve": {"axis": {"x": "independent", "y": "independent"}}
    },
    {
      "width": 66, "height": 190,
      "data": {"name": "hist"},
      "transform": [{"filter": "datum.panel === 'yield' && datum.year === 2012"}],
      "layer": [
        {"mark": {"type": "rect", "fill": "#0000ff", "stroke": "black", "strokeWidth": 1.2},
         "encoding": {
           "x": {"field": "share", "type": "quantitative", "scale": {"domain": [0, 1], "nice": false, "zero": false}, "axis": {"orient": "bottom", "values": [0, 1], "format": "d", "title": "2012"}},
           "x2": {"datum": 0},
           "y": {"field": "lo", "type": "quantitative", "scale": {"domain": [0, 1], "nice": false, "zero": false}, "axis": {"orient": "left", "values": [0, 0.2, 0.4, 0.6, 0.8, 1], "labels": false, "title": null}},
           "y2": {"field": "hi"}}},
        {"mark": {"type": "rect", "fill": "#0000ff", "stroke": "black", "strokeWidth": 1.2},
         "encoding": {
           "x": {"field": "share", "type": "quantitative", "scale": {"domain": [0, 1], "nice": false, "zero": false}, "axis": {"orient": "top", "values": [0, 1], "labels": false, "title": null}},
           "x2": {"datum": 0},
           "y": {"field": "lo", "type": "quantitative", "scale": {"domain": [0, 1], "nice": false, "zero": false}, "axis": {"orient": "right", "values": [0, 0.2, 0.4, 0.6, 0.8, 1], "labels": false, "title": null}},
           "y2": {"field": "hi"}}}
      ],
      "resolve": {"axis": {"x": "independent", "y": "independent"}}
    },
    {"width": 40, "height": 190, "data": {"values": []}, "mark": "point", "view": {"stroke": null}},
    {
      "width": 66, "height": 190,
      "data": {"name": "hist"},
      "transform": [{"filter": "datum.panel === 'slope' && datum.year === 2003"}],
      "layer": [
        {"mark": {"type": "rect", "fill": "#0000ff", "stroke": "black", "strokeWidth": 1.2},
         "encoding": {
           "x": {"field": "share", "type": "quantitative", "scale": {"domain": [0, 1], "nice": false, "zero": false}, "axis": {"orient": "bottom", "values": [0, 1], "format": "d", "title": "2003"}},
           "x2": {"datum": 0},
           "y": {"field": "lo", "type": "quantitative", "scale": {"domain": [0, 1], "nice": false, "zero": false}, "axis": {"orient": "left", "values": [0, 0.2, 0.4, 0.6, 0.8, 1], "format": ".1f", "title": "w₁,₄", "titleFont": "DejaVu Serif", "titleFontStyle": "italic", "titleFontSize": 18, "titlePadding": 16}},
           "y2": {"field": "hi"}}},
        {"mark": {"type": "rect", "fill": "#0000ff", "stroke": "black", "strokeWidth": 1.2},
         "encoding": {
           "x": {"field": "share", "type": "quantitative", "scale": {"domain": [0, 1], "nice": false, "zero": false}, "axis": {"orient": "top", "values": [0, 1], "labels": false, "title": null}},
           "x2": {"datum": 0},
           "y": {"field": "lo", "type": "quantitative", "scale": {"domain": [0, 1], "nice": false, "zero": false}, "axis": {"orient": "right", "values": [0, 0.2, 0.4, 0.6, 0.8, 1], "labels": false, "title": null}},
           "y2": {"field": "hi"}}}
      ],
      "resolve": {"axis": {"x": "independent", "y": "independent"}}
    },
    {
      "width": 328, "height": 190,
      "title": "slope",
      "layer": [
        {"data": {"name": "bands"}, "transform": [{"filter": "datum.panel === 'slope'"}],
         "mark": {"type": "rule", "strokeWidth": 7, "color": "black"},
         "encoding": {
           "x": {"field": "year", "type": "quantitative", "scale": {"domain": [2002.5, 2012.6], "nice": false, "zero": false}, "axis": {"orient": "bottom", "values": [2003, 2004, 2005, 2006, 2007, 2008, 2009, 2010, 2011, 2012], "format": "d", "labelAngle": 270, "labelFontSize": 13, "labelPadding": 7, "title": null}},
           "y": {"field": "lo", "type": "quantitative", "scale": {"domain": [0, 1], "nice": false, "zero": false}, "axis": {"orient": "left", "values": [0, 0.2, 0.4, 0.6, 0.8, 1], "labels": false, "title": null}},
           "y2": {"field": "hi"}}},
        {"data": {"name": "ticks"}, "transform": [{"filter": "datum.panel === 'slope'"}],
         "mark": {"type": "tick", "orient": "horizontal", "size": 7, "thickness": 2, "color": "black", "opacity": 1},
         "encoding": {
           "x": {"field": "year", "type": "quantitative", "scale": {"domain": [2002.5, 2012.6], "nice": false, "zero": false}, "axis": {"orient": "top", "values": [2003, 2004, 2005, 2006, 2007, 2008, 2009, 2010, 2011, 2012], "labels": false, "title": null}},
           "y": {"field": "w", "type": "quantitative", "scale": {"domain": [0, 1], "nice": false, "zero": false}, "axis": {"orient": "right", "values": [0, 0.2, 0.4, 0.6, 0.8, 1], "labels": false, "title": null}}}}
      ],
      "resolve": {"axis": {"x": "independent", "y": "independent"}}
    },
    {
      "width": 66, "height": 190,
      "data": {"name": "hist"},
      "transform": [{"filter": "datum.panel === 'slope' && datum.year === 2012"}],
      "layer": [
        {"mark": {"type": "rect", "fill": "#0000ff", "stroke": "black", "strokeWidth": 1.2},
         "encoding": {
           "x": {"field": "share", "type": "quantitative", "scale": {"domain": [0, 1], "nice": false, "zero": false}, "axis": {"orient": "bottom", "values": [0, 1], "format": "d", "title": "2012"}},
           "x2": {"datum": 0},
           "y": {"field": "lo", "type": "quantitative", "scale": {"domain": [0, 1], "nice": false, "zero": false}, "axis": {"orient": "left", "values": [0, 0.2, 0.4, 0.6, 0.8, 1], "labels": false, "title": null}},
           "y2": {"field": "hi"}}},
        {"mark": {"type": "rect", "fill": "#0000ff", "stroke": "black", "strokeWidth": 1.2},
         "encoding": {
           "x": {"field": "share", "type": "quantitative", "scale": {"domain": [0, 1], "nice": false, "zero": false}, "axis": {"orient": "top", "values": [0, 1], "labels": false, "title": null}},
           "x2": {"datum": 0},
           "y": {"field": "lo", "type": "quantitative", "scale": {"domain": [0, 1], "nice": false, "zero": false}, "axis": {"orient": "right", "values": [0, 0.2, 0.4, 0.6, 0.8, 1], "labels": false, "title": null}},
           "y2": {"field": "hi"}}}
      ],
      "resolve": {"axis": {"x": "independent", "y": "independent"}}
    }
  ]
}
